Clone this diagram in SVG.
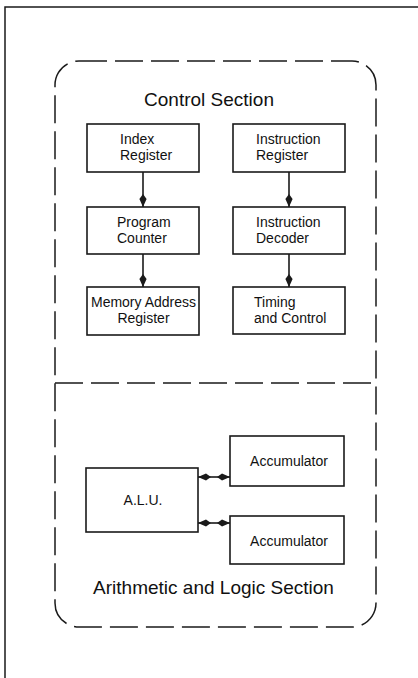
<svg xmlns="http://www.w3.org/2000/svg" width="418" height="678" viewBox="0 0 418 678">
<style>
  .frame { fill: none; stroke: #1a1a1a; stroke-width: 1.5; }
  .dash { fill: none; stroke: #1a1a1a; stroke-width: 1.5; stroke-dasharray: 28 8; }
  .box { fill: #ffffff; stroke: #1a1a1a; stroke-width: 1.6; }
  .conn { fill: none; stroke: #1a1a1a; stroke-width: 1.6; }
  text { font-family: "Liberation Sans", Arial, sans-serif; fill: #111; }
  .lbl { font-size: 14px; }
  .title { font-size: 19px; text-anchor: middle; }
  .c { text-anchor: middle; }
</style>
<defs>
  <marker id="arr" viewBox="0 0 13 8" refX="13" refY="4" markerWidth="13" markerHeight="8" markerUnits="userSpaceOnUse" orient="auto-start-reverse">
    <path d="M0,4 L5,0.4 L13,4 L5,7.6 Z" fill="#1a1a1a"/>
  </marker>
</defs>
<rect width="418" height="678" fill="#ffffff"/>

<g id="outer-frame">
  <path class="frame" d="M418,7 L5,7 L5,678"/>
</g>

<g id="sections">
  <rect class="dash" x="55" y="61" width="321" height="566" rx="24" ry="24"/>
  <line class="dash" x1="55" y1="383" x2="376" y2="383"/>
  <text class="title" x="209" y="106">Control Section</text>
  <text class="title" x="213.5" y="594">Arithmetic and Logic Section</text>
</g>

<g id="connectors">
  <line class="conn" x1="143" y1="172" x2="143" y2="207" marker-end="url(#arr)"/>
  <line class="conn" x1="143" y1="254" x2="143" y2="287" marker-end="url(#arr)"/>
  <line class="conn" x1="289" y1="172" x2="289" y2="207" marker-end="url(#arr)"/>
  <line class="conn" x1="289" y1="254" x2="289" y2="287" marker-end="url(#arr)"/>
  <line class="conn" x1="198" y1="477" x2="230" y2="477" marker-start="url(#arr)" marker-end="url(#arr)"/>
  <line class="conn" x1="198" y1="523" x2="230" y2="523" marker-start="url(#arr)" marker-end="url(#arr)"/>
</g>

<g id="index-register">
  <rect class="box" x="87" y="124" width="112" height="48"/>
  <text class="lbl" x="120" y="144">Index</text>
  <text class="lbl" x="120" y="160">Register</text>
</g>
<g id="program-counter">
  <rect class="box" x="87" y="207" width="112" height="47"/>
  <text class="lbl" x="117" y="227">Program</text>
  <text class="lbl" x="117" y="243">Counter</text>
</g>
<g id="memory-address-register">
  <rect class="box" x="87" y="287" width="112" height="48"/>
  <text class="lbl c" x="143.5" y="307">Memory Address</text>
  <text class="lbl c" x="143.5" y="323">Register</text>
</g>
<g id="instruction-register">
  <rect class="box" x="233" y="124" width="112" height="48"/>
  <text class="lbl" x="256" y="144">Instruction</text>
  <text class="lbl" x="256" y="160">Register</text>
</g>
<g id="instruction-decoder">
  <rect class="box" x="233" y="207" width="112" height="47"/>
  <text class="lbl" x="256" y="227">Instruction</text>
  <text class="lbl" x="256" y="243">Decoder</text>
</g>
<g id="timing-and-control">
  <rect class="box" x="233" y="287" width="112" height="47"/>
  <text class="lbl" x="254" y="307">Timing</text>
  <text class="lbl" x="254" y="323">and Control</text>
</g>
<g id="alu">
  <rect class="box" x="86" y="468" width="112" height="64"/>
  <text class="lbl c" x="143" y="505">A.L.U.</text>
</g>
<g id="accumulator-1">
  <rect class="box" x="230" y="436" width="114" height="50"/>
  <text class="lbl c" x="289" y="466">Accumulator</text>
</g>
<g id="accumulator-2">
  <rect class="box" x="230" y="516" width="114" height="48"/>
  <text class="lbl c" x="289" y="546">Accumulator</text>
</g>
</svg>
